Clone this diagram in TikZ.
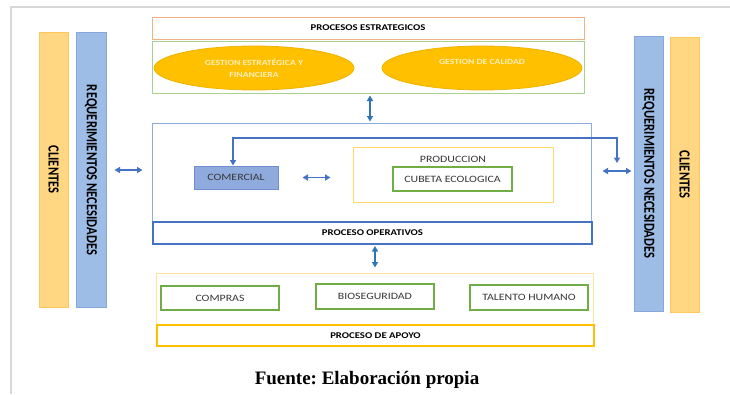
\documentclass[tikz,border=0pt]{standalone}
\usepackage{fontspec}
\usepackage{graphicx}
\setmainfont{Carlito}
\newfontfamily\capfont{Liberation Serif}
\usetikzlibrary{arrows.meta,shapes.geometric}
\definecolor{obarfill}{RGB}{255,214,130}
\definecolor{obardraw}{RGB}{255,200,95}
\definecolor{bbarfill}{RGB}{157,189,230}
\definecolor{bbardraw}{RGB}{135,168,220}
\definecolor{salmon}{RGB}{244,177,131}
\definecolor{lgreen}{RGB}{169,209,142}
\definecolor{dgreen}{RGB}{112,173,71}
\definecolor{gold}{RGB}{255,192,0}
\definecolor{golddraw}{RGB}{240,180,0}
\definecolor{etxt}{RGB}{255,238,185}
\definecolor{lblue}{RGB}{143,170,220}
\definecolor{mblue}{RGB}{68,114,196}
\definecolor{ablue}{RGB}{46,117,182}
\definecolor{comfill}{RGB}{143,170,220}
\definecolor{comdraw}{RGB}{112,142,210}
\definecolor{lyellow}{RGB}{255,217,102}
\definecolor{pyellow}{RGB}{255,230,153}
\definecolor{txtgray}{RGB}{55,55,55}
\definecolor{framegray}{RGB}{215,215,215}
\newcommand{\sx}[1]{\scalebox{1.22}[1]{#1}}
\newcommand{\vtext}[1]{\scalebox{1}[1.22]{\fontsize{12.6}{14}\selectfont\bfseries #1}}
\newcommand{\blab}[1]{\sx{\fontsize{8.8}{10}\selectfont\bfseries #1}}
\newcommand{\rlab}[1]{\sx{\fontsize{9.7}{11}\selectfont #1}}
\begin{document}
\begin{tikzpicture}[x=1pt,y=-1pt,
  box/.style={draw, inner sep=0pt, line width=#1},
  box/.default=1pt,
  obar/.style={box, fill=obarfill, draw=obardraw, rotate=-90, minimum width=275pt, minimum height=29pt, text=black},
  bbar/.style={box, fill=bbarfill, draw=bbardraw, rotate=-90, minimum width=275pt, minimum height=30pt, text=black},
  ell/.style={ellipse, draw=golddraw, fill=gold, line width=0.8pt, minimum width=200pt, minimum height=44pt, inner sep=0pt, text=etxt, align=center},
  gbox/.style={box=2pt, draw=dgreen, fill=white, text=txtgray},
  dbl/.style={{Triangle[length=5.5pt,width=6pt]}-{Triangle[length=5.5pt,width=6pt]}, line width=1.4pt, draw=mblue},
  vdbl/.style={{Triangle[length=5.5pt,width=6pt]}-{Triangle[length=5.5pt,width=6pt]}, line width=1.4pt, draw=ablue},
  frame/.style={draw=framegray, line width=1.5pt}
]
\useasboundingbox (0,0) rectangle (730,394);
\fill[white] (0,0) rectangle (730,394);
\draw[frame] (730,7) -- (11,7) -- (11,394);

% side bars
\node[obar] (cliL) at (53.5,169.5) {\vtext{CLIENTES}};
\node[bbar] (reqL) at (91,170) {\vtext{REQUERIMIENTOS NECESIDADES}};
\node[bbar, minimum height=29pt] (reqR) at (648.5,173.5) {\vtext{REQUERIMIENTOS NECESIDADES}};
\node[obar] (cliR) at (684.5,174.5) {\vtext{CLIENTES}};

% strategic
\node[box, draw=salmon, minimum width=432pt, minimum height=22pt] (pe) at (368,28) {\blab{PROCESOS ESTRATEGICOS}};
\node[box, draw=lgreen, minimum width=432pt, minimum height=52pt] (gb) at (368,67) {};
\node[ell] (e1) at (254,68) {\sx{\fontsize{7.9}{12}\selectfont\bfseries GESTION ESTRATÉGICA Y}\\[-0.5pt]\sx{\fontsize{7.9}{12}\selectfont\bfseries FINANCIERA}};
\node[ell] (e2) at (482,68) {};
\node[text=etxt, inner sep=0pt] (e2t) at (482,62) {\sx{\fontsize{7.9}{10}\selectfont\bfseries GESTION DE CALIDAD}};

% operative
\node[box, draw=lblue, minimum width=439pt, minimum height=99pt] (op) at (371.5,172.5) {};
\node[box=2pt, draw=mblue, fill=white, minimum width=439pt, minimum height=22pt] (opb) at (372.5,233) {\blab{PROCESO OPERATIVOS}};
\node[box, draw=comdraw, fill=comfill, minimum width=84pt, minimum height=23pt, text=txtgray] (com) at (236,177.5) {\rlab{COMERCIAL}};
\node[box, draw=lyellow, minimum width=200pt, minimum height=55pt] (prod) at (453,174.5) {};
\node[inner sep=0pt, text=txtgray] (prodt) at (453,159) {\rlab{PRODUCCION}};
\node[gbox, minimum width=119pt, minimum height=24pt] (cub) at (452.5,179) {\rlab{CUBETA ECOLOGICA}};

% support
\node[box, draw=pyellow, minimum width=437pt, minimum height=52pt] (sup) at (374.5,299) {};
\node[box=2pt, draw=gold, fill=white, minimum width=437pt, minimum height=21pt] (apb) at (375.5,335.5) {\blab{PROCESO DE APOYO}};
\node[gbox, minimum width=118pt, minimum height=24pt] (compras) at (220,298) {\rlab{COMPRAS}};
\node[gbox, minimum width=118pt, minimum height=25pt] (bio) at (375,296.5) {\rlab{BIOSEGURIDAD}};
\node[gbox, minimum width=118pt, minimum height=25pt] (tal) at (529,297.5) {\rlab{TALENTO HUMANO}};

% caption
\node[inner sep=0pt] (cap) at (367,380) {\capfont\fontsize{19}{22}\selectfont\bfseries\frenchspacing Fuente: Elaboración propia};

% connectors
\coordinate (yl) at (0,170);
\coordinate (yr) at (0,171);
\coordinate (xa) at (370,0);
\coordinate (xb) at (375,0);
\coordinate (fbL) at (233,138);
\coordinate (fbR) at (617,163);
\draw[dbl, shorten <=8pt, shorten >=9pt] (reqL.north |- yl) -- (op.west |- yl);
\draw[dbl, shorten <=11pt, shorten >=2pt] (op.east |- yr) -- (reqR.south |- yr);
\draw[dbl, shorten <=24pt, shorten >=22pt] (com.east) -- (com.east -| prod.west);
\draw[vdbl, shorten <=2pt, shorten >=1pt] (gb.south -| xa) -- (op.north -| xa);
\draw[vdbl, shorten <=1pt, shorten >=5pt] (opb.south -| xb) -- (sup.north -| xb);
\draw[dbl] ([xshift=-3pt]com.north) -- (fbL) -- (fbL -| fbR) -- (fbR);
\end{tikzpicture}
\end{document}
